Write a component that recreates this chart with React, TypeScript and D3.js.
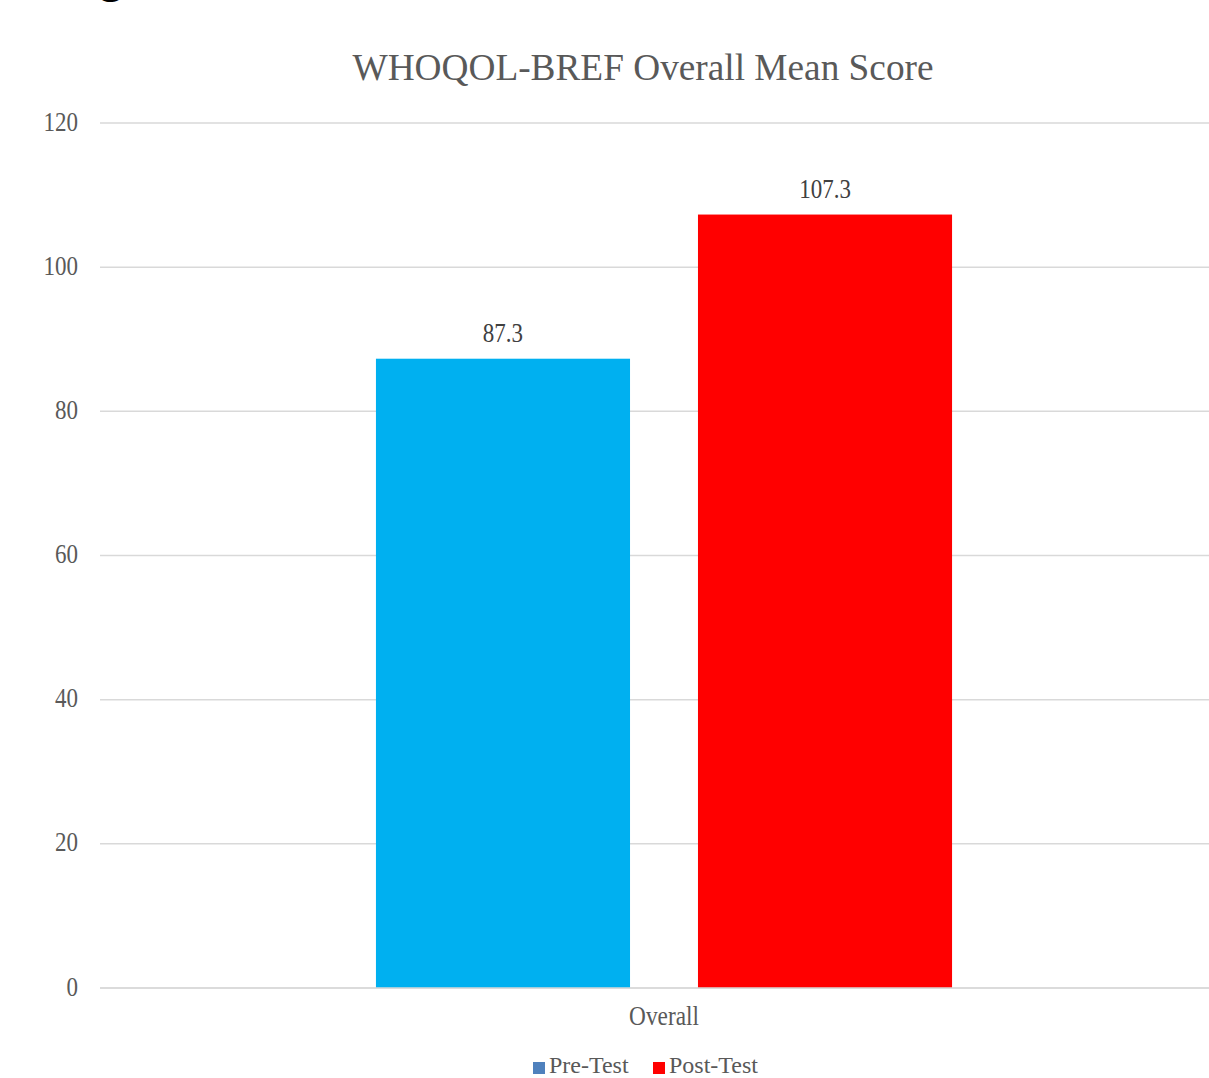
import React from "react";
import * as d3 from "d3";

const categories = ["Overall"];
const seriesNames = ["Pre-Test", "Post-Test"];
const preTest = [87.3];
const postTest = [107.3];
const yTicks = [0, 20, 40, 60, 80, 100, 120];
const barColors = ["#00b0f0", "#ff0000"];
const legendColors = ["#4f81bd", "#ff0000"];

const W = 1209;
const H = 1078;
const FONT = "Liberation Serif";
const STRETCH = 1.2;

function SText(props: { x: number; y: number; size: number; fill: string; anchor?: string; children: React.ReactNode }) {
  return (
    <text
      transform={`translate(${props.x},${props.y}) scale(1,${STRETCH})`}
      textAnchor={props.anchor || "start"}
      fontSize={props.size}
      fill={props.fill}
      style={{ fontFamily: FONT }}
    >
      {props.children}
    </text>
  );
}

export default function App() {
  const y = d3.scaleLinear().domain([0, 120]).range([988, 123]);
  const x0 = d3.scaleBand<string>().domain(categories).range([100, 1228]).paddingInner(0).paddingOuter(0.479);
  const x1 = d3.scaleBand<string>().domain(seriesNames).range([0, x0.bandwidth()]).paddingInner(0.211).paddingOuter(0);
  const values = [preTest, postTest];

  return (
    <svg width={W} height={H} style={{ position: "absolute", left: 0, top: 0, background: "#fff", fontFamily: FONT }}>
      <rect x={0} y={0} width={W} height={H} fill="#fff" />
      {/* cut-off caption fragment */}
      <text x={100} y={-7} fontSize={44} fontWeight="bold" fill="#000" style={{ fontFamily: FONT }}>g</text>
      <text x={643} y={80} textAnchor="middle" fontSize={37.3} fill="#595959" style={{ fontFamily: FONT }}>WHOQOL-BREF Overall Mean Score</text>
      {yTicks.map((t) => (
        <g key={t}>
          <line x1={100} x2={W} y1={y(t)} y2={y(t)} stroke="#d9d9d9" strokeWidth={1.5} />
          <SText x={78} y={y(t) + 7.5} anchor="end" size={23} fill="#595959">{t}</SText>
        </g>
      ))}
      {categories.map((c, ci) => (
        <g key={c} transform={`translate(${x0(c)},0)`}>
          {seriesNames.map((s, si) => {
            const v = values[si][ci];
            const bx = x1(s)!;
            const bw = x1.bandwidth();
            return (
              <g key={s}>
                <rect x={bx} y={y(v)} width={bw} height={y(0) - y(v)} fill={barColors[si]} />
                <SText x={bx + bw / 2} y={y(v) - 17} anchor="middle" size={23} fill="#404040">{v.toFixed(1)}</SText>
              </g>
            );
          })}
          <SText x={x0.bandwidth() / 2} y={1025} anchor="middle" size={23.3} fill="#595959">{c}</SText>
        </g>
      ))}
      <line x1={100} x2={W} y1={y(0)} y2={y(0)} stroke="#d9d9d9" strokeWidth={1.5} />
      {seriesNames.map((s, i) => {
        const lx = [533, 653][i];
        return (
          <g key={s}>
            <rect x={lx} y={1062} width={12} height={12} fill={legendColors[i]} />
            <text x={lx + 16} y={1073} fontSize={24} fill="#595959" style={{ fontFamily: FONT }}>{s}</text>
          </g>
        );
      })}
    </svg>
  );
}
